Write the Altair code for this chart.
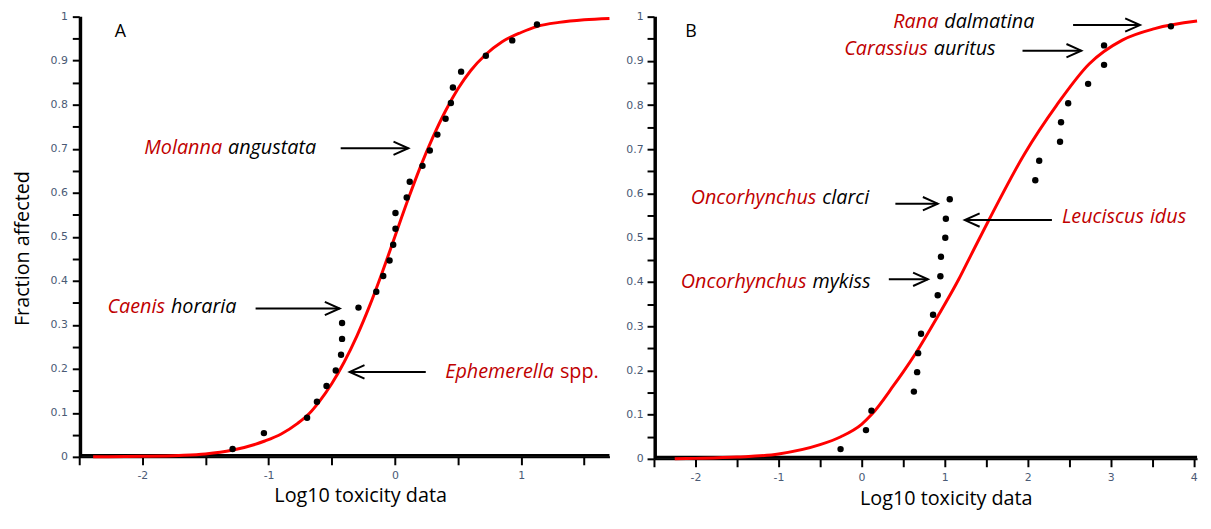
import altair as alt
import pandas as pd

# ---------------- Panel A data ----------------
a_pt_x = [-1.285, -1.037, -0.695, -0.617, -0.541, -0.468, -0.426, -0.418, -0.418, -0.288,
          -0.147, -0.092, -0.042, -0.013, 0.005, 0.005, 0.094, 0.118, 0.219, 0.277,
          0.337, 0.402, 0.444, 0.460, 0.525, 0.721, 0.930, 1.126]
a_pt_y = [0.018, 0.054, 0.089, 0.125, 0.161, 0.196, 0.232, 0.268, 0.304, 0.339,
          0.375, 0.411, 0.446, 0.482, 0.518, 0.554, 0.589, 0.625, 0.661, 0.696,
          0.732, 0.768, 0.804, 0.839, 0.875, 0.911, 0.946, 0.982]
a_curve_x = [-2.39, -2.0, -1.71, -1.5, -1.29, -1.03, -0.9, -0.77, -0.676, -0.6, -0.5, -0.4,
             -0.3, -0.2, -0.1, 0.0, 0.1, 0.2, 0.3, 0.4, 0.5, 0.6, 0.72, 0.85, 1.0, 1.13,
             1.3, 1.5, 1.7]
a_curve_y = [0.0003, 0.0013, 0.0033, 0.0067, 0.015, 0.036, 0.052, 0.076, 0.099, 0.125, 0.166,
             0.216, 0.275, 0.343, 0.419, 0.5, 0.581, 0.657, 0.725, 0.785, 0.836, 0.877,
             0.914, 0.943, 0.964, 0.978, 0.987, 0.993, 0.996]
a_genus = ["Molanna", "Caenis", "Ephemerella"]
a_species = ["angustata", "horaria", "spp."]
a_species_color = ["black", "black", "#c00000"]
a_species_style = ["italic", "italic", "normal"]
a_label_x = [-1.345, -1.797, 1.284]
a_label_y = [0.701, 0.341, 0.193]
a_arrow_tail = [-0.429, -1.103, 0.245]
a_arrow_tip = [0.107, -0.437, -0.358]
a_arrow_y = [0.701, 0.337, 0.193]
a_arrow_dir = ["r", "r", "l"]
a_letter = ["A"]
a_letter_x = [-2.175]
a_letter_y = [0.965]
a_x_domain = [-2.5, 1.7]
a_x_ticks = [-2.5, -2, -1.5, -1, -0.5, 0, 0.5, 1, 1.5]

# ---------------- Panel B data ----------------
b_pt_x = [-0.253, 0.053, 0.119, 0.630, 0.669, 0.681, 0.716, 0.861, 0.917, 0.949,
          0.956, 1.008, 1.015, 1.062, 2.092, 2.139, 2.390, 2.402, 2.488, 2.728,
          2.920, 2.920, 3.725]
b_pt_y = [0.022, 0.065, 0.109, 0.152, 0.196, 0.239, 0.283, 0.326, 0.370, 0.413,
          0.457, 0.500, 0.543, 0.587, 0.630, 0.674, 0.717, 0.761, 0.804, 0.848,
          0.891, 0.935, 0.978]
b_curve_x = [-2.25, -2.0, -1.5, -1.0, -0.5, -0.25, 0.0, 0.12, 0.39, 0.5, 0.66, 0.92, 1.17,
             1.31, 1.53, 1.96, 2.35, 2.74, 3.14, 3.53, 4.04]
b_curve_y = [0.0, 0.001, 0.004, 0.011, 0.032, 0.05, 0.078, 0.10, 0.167, 0.196, 0.241, 0.323,
             0.406, 0.458, 0.539, 0.689, 0.80, 0.893, 0.947, 0.973, 0.99]
b_genus = ["Rana", "Carassius", "Oncorhynchus", "Oncorhynchus", "Leuciscus"]
b_species = ["dalmatina", "auritus", "clarci", "mykiss", "idus"]
b_species_color = ["black", "black", "black", "black", "#c00000"]
b_species_style = ["italic", "italic", "italic", "italic", "italic"]
b_label_x = [0.960, 0.834, -0.509, -0.627, 3.436]
b_label_y = [0.987, 0.926, 0.590, 0.399, 0.547]
b_arrow_tail = [2.547, 1.938, 0.407, 0.328, 2.292]
b_arrow_tip = [3.353, 2.646, 0.917, 0.799, 1.243]
b_arrow_y = [0.981, 0.923, 0.577, 0.406, 0.540]
b_arrow_dir = ["r", "r", "r", "r", "l"]
b_letter = ["B"]
b_letter_x = [-2.053]
b_letter_y = [0.965]
b_x_domain = [-2.5, 4.04]
b_x_ticks = [-2.5, -2, -1.5, -1, -0.5, 0, 0.5, 1, 1.5, 2, 2.5, 3, 3.5, 4]

y_domain = [0.0, 1.0]
y_ticks = [round(i * 0.05, 2) for i in range(21)]

RED_TEXT = "#c00000"
LABEL_COLOR = "#4a5a75"
ARROW_R = "M -1 -0.45 L 0 0 L -1 0.45"
ARROW_L = "M 1 -0.45 L 0 0 L 1 0.45"


def panel(pt_x, pt_y, cx, cy, genus, species, sp_color, sp_style, lx, ly,
          a_tail, a_tip, a_y, a_dir, letter, letter_x, letter_y,
          xdom, xticks, width, height, ytitle, ylabpad, xtitle_x, xtitle_y):
    xs = alt.Scale(domain=xdom, nice=False, zero=False)
    ys = alt.Scale(domain=y_domain, nice=False, zero=False)
    xaxis = alt.Axis(
        values=xticks, grid=False, domain=True, ticks=True,
        domainColor="black", tickColor="black", domainWidth=2, tickWidth=2,
        labelExpr="datum.value % 1 === 0 ? '' + datum.value : ''",
        tickSize=8,
        labelFont="DejaVu Sans", labelFontSize=11, labelColor=LABEL_COLOR, labelPadding=5,
        title="Log10 toxicity data", titleFont="Open Sans", titleFontSize=20,
        titleFontWeight="normal", titleColor="black", titleX=xtitle_x, titleY=xtitle_y,
        titleAlign="center", titleBaseline="alphabetic",
    )
    yargs = dict(
        values=y_ticks, grid=False, domain=True, ticks=True,
        domainColor="black", tickColor="black", domainWidth=2, tickWidth=2,
        labelExpr="abs(datum.value*10 - round(datum.value*10)) < 0.001 ? format(datum.value, '.1~f') : ''",
        tickSize=7,
        labelFont="DejaVu Sans", labelFontSize=11, labelColor=LABEL_COLOR, labelPadding=ylabpad,
    )
    if ytitle:
        yargs.update(title=ytitle, titleFont="Open Sans", titleFontSize=20,
                     titleFontWeight="normal", titleColor="black", titleX=-51.5,
                     titleY=234, titleAngle=270, titleAlign="center",
                     titleBaseline="alphabetic")
    else:
        yargs.update(title=None)
    yaxis = alt.Axis(**yargs)

    def X(f):
        return alt.X(f, type="quantitative", scale=xs, axis=xaxis)

    def Y(f):
        return alt.Y(f, type="quantitative", scale=ys, axis=yaxis)

    layers = []
    # axis frame bars along the left and bottom edges of the plot
    bars = pd.DataFrame({
        "x": [xdom[0], xdom[0]],
        "x2": [xdom[1], xdom[0] + (xdom[1] - xdom[0]) * 3.0 / width],
        "y": [y_domain[0], y_domain[0]],
        "y2": [y_domain[0] + 3.0 / height, y_domain[1]],
    })
    frame = alt.Chart(bars).mark_rect(color="black", opacity=1).encode(
        x=X("x"), x2="x2", y=Y("y"), y2="y2")
    layers.append(frame)

    curve = alt.Chart(pd.DataFrame({"x": cx, "y": cy})).mark_line(
        color="#ff0000", strokeWidth=3, interpolate="monotone"
    ).encode(x=X("x"), y=Y("y"))
    layers.append(curve)

    pts = alt.Chart(pd.DataFrame({"x": pt_x, "y": pt_y})).mark_circle(
        size=42, color="black", opacity=1
    ).encode(x=X("x"), y=Y("y"))
    layers.append(pts)

    adf = pd.DataFrame({"tail": a_tail, "tip": a_tip, "y": a_y, "dir": a_dir})
    shafts = alt.Chart(adf).mark_rule(color="black", strokeWidth=2).encode(
        x=X("tail"), x2="tip", y=Y("y"))
    heads = alt.Chart(adf).mark_point(
        filled=False, color="black", strokeWidth=2, size=900, opacity=1
    ).encode(
        x=X("tip"), y=Y("y"),
        shape=alt.Shape("dir:N", scale=alt.Scale(domain=["r", "l"], range=[ARROW_R, ARROW_L]),
                        legend=None),
    )
    layers += [shafts, heads]

    ldf = pd.DataFrame({"x": lx, "y": ly, "genus": genus, "species": species,
                        "col": sp_color, "style": sp_style})
    gen = alt.Chart(ldf).mark_text(
        align="right", baseline="middle", dx=-3, font="Open Sans", fontSize=20,
        fontStyle="italic", color=RED_TEXT
    ).encode(x=X("x"), y=Y("y"), text="genus:N")
    sp_it = alt.Chart(ldf).transform_filter("datum.style == 'italic'").mark_text(
        align="left", baseline="middle", dx=3, font="Open Sans", fontSize=20,
        fontStyle="italic"
    ).encode(x=X("x"), y=Y("y"), text="species:N", color=alt.Color("col:N", scale=None))
    sp_no = alt.Chart(ldf).transform_filter("datum.style == 'normal'").mark_text(
        align="left", baseline="middle", dx=3, font="Open Sans", fontSize=20,
        fontStyle="normal"
    ).encode(x=X("x"), y=Y("y"), text="species:N", color=alt.Color("col:N", scale=None))
    let = alt.Chart(pd.DataFrame({"x": letter_x, "y": letter_y, "t": letter})).mark_text(
        align="center", baseline="middle", font="Open Sans", fontSize=18, color="black"
    ).encode(x=X("x"), y=Y("y"), text="t:N")
    layers += [gen, sp_it, sp_no, let]

    return alt.layer(*layers).properties(width=width, height=height)


A = panel(a_pt_x, a_pt_y, a_curve_x, a_curve_y, a_genus, a_species, a_species_color,
          a_species_style, a_label_x, a_label_y, a_arrow_tail, a_arrow_tip, a_arrow_y,
          a_arrow_dir, a_letter, a_letter_x, a_letter_y, a_x_domain, a_x_ticks,
          536, 445, "Fraction affected", 5, 284, 45)
B = panel(b_pt_x, b_pt_y, b_curve_x, b_curve_y, b_genus, b_species, b_species_color,
          b_species_style, b_label_x, b_label_y, b_arrow_tail, b_arrow_tip, b_arrow_y,
          b_arrow_dir, b_letter, b_letter_x, b_letter_y, b_x_domain, b_x_ticks,
          549, 447, None, 4, 295, 46)

chart = alt.hconcat(A, B, spacing=10).properties(
    padding={"left": 4, "top": 0, "right": 0, "bottom": 0}
).configure_view(strokeWidth=0)

chart.save("out.html", embed_options={"renderer": "svg", "actions": False})
